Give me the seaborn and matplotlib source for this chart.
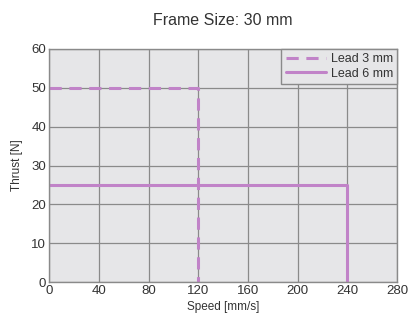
import matplotlib
matplotlib.use("Agg")
import matplotlib.pyplot as plt
import pandas as pd
import seaborn as sns

# step curves: thrust vs speed
lead3_speed = [0, 120, 120]
lead3_thrust = [50, 50, 0]
lead6_speed = [0, 240, 240]
lead6_thrust = [25, 25, 0]
x_ticks = [0, 40, 80, 120, 160, 200, 240, 280]
y_ticks = [0, 10, 20, 30, 40, 50, 60]

LINE_COLOR = "#c183c8"
GRID_COLOR = "#8a8a8a"
TEXT_COLOR = "#333333"

sns.set_style("whitegrid")
plt.rcParams["font.family"] = ["Liberation Sans", "DejaVu Sans"]

df = pd.concat([
    pd.DataFrame({"speed": lead3_speed, "thrust": lead3_thrust, "lead": "Lead 3 mm"}),
    pd.DataFrame({"speed": lead6_speed, "thrust": lead6_thrust, "lead": "Lead 6 mm"}),
])

fig = plt.figure(figsize=(4.09, 3.18), dpi=100)
ax = fig.add_axes([0.12, 0.113, 0.851, 0.733])
ax.set_facecolor("#e6e6e8")

sns.lineplot(
    data=df, x="speed", y="thrust", hue="lead", style="lead",
    palette=[LINE_COLOR, LINE_COLOR], dashes=[(4, 2.5), ""],
    sort=False, estimator=None, units="lead", linewidth=2.2, ax=ax,
)

ax.set_xlim(0, 280)
ax.set_ylim(0, 60)
ax.set_xticks(x_ticks)
ax.set_yticks(y_ticks)
ax.grid(True, color=GRID_COLOR, linewidth=0.9)
ax.set_axisbelow(True)
for spine in ax.spines.values():
    spine.set_color(GRID_COLOR)
    spine.set_linewidth(1.0)
ax.tick_params(axis="both", labelsize=9.5, length=0, pad=2, colors=TEXT_COLOR)

ax.set_xlabel("Speed [mm/s]", fontsize=8.5, color=TEXT_COLOR, labelpad=3)
ax.set_ylabel("Thrust [N]", fontsize=8.5, color=TEXT_COLOR, labelpad=6)
ax.set_title("Frame Size: 30 mm", fontsize=11.5, color=TEXT_COLOR, pad=17)

leg = ax.legend(loc="upper right", fontsize=9, frameon=True, fancybox=False,
                handlelength=3.2, borderpad=0.35, labelspacing=0.2,
                borderaxespad=0.0, handletextpad=0.4)
leg.get_frame().set_facecolor("#e6e6e8")
leg.get_frame().set_edgecolor(GRID_COLOR)
leg.get_frame().set_alpha(1.0)
for t in leg.get_texts():
    t.set_color(TEXT_COLOR)

fig.savefig("out.png", dpi=100)
